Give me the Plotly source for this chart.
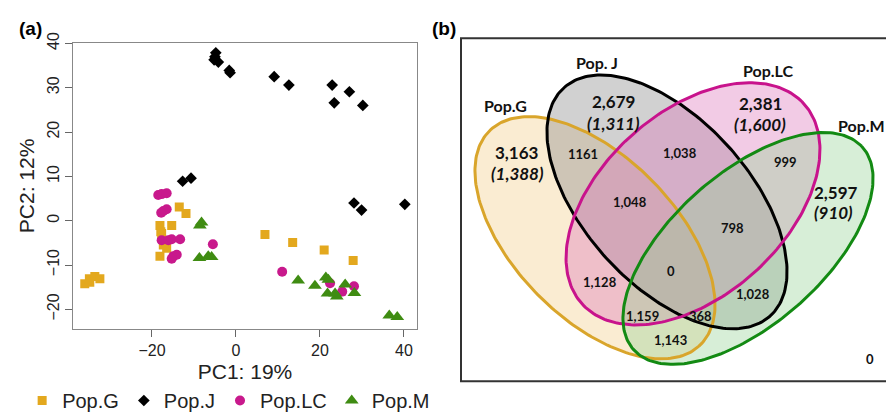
import numpy as np
import plotly.graph_objects as go

# ---------------- Panel (a) data: PCA scores ----------------
popG_x = [-13.5, -11.9, -18.1, -15.3, -17.9, -17.7, -17.3, -16.5, -18.1, -36.0, -34.9, -33.6, -32.4, -34.8, 6.9, 13.5, 21.0, 27.9]
popG_y = [3.1, 1.6, -1.1, -1.1, -2.5, -2.9, -5.5, -6.2, -8.0, -14.2, -13.1, -12.6, -13.1, -13.9, -3.1, -4.9, -6.6, -9.0]

popJ_x = [-4.8, -5.0, -5.2, -4.2, -1.6, -1.4, 9.1, 12.6, 22.9, 23.4, 27.0, 30.2, -12.7, -10.7, 28.1, 29.9, 40.2]
popJ_y = [37.9, 37.0, 36.3, 35.8, 33.9, 33.4, 32.5, 30.6, 30.6, 26.6, 29.1, 26.0, 8.9, 9.6, 4.0, 2.4, 3.7]

popLC_x = [-18.5, -17.7, -16.5, -17.3, -16.5, -17.8, -17.7, -16.1, -15.3, -13.3, -14.9, -14.1, -15.3, -5.5, 11.0, 22.4, 25.3, 28.1]
popLC_y = [5.8, 6.0, 6.2, 2.2, 2.6, 1.8, -4.4, -4.4, -4.2, -4.2, -8.0, -7.7, -8.6, -5.3, -11.5, -14.1, -16.0, -14.8]

popM_x = [-8.6, -8.2, -8.7, -6.6, -5.8, 14.8, 18.8, 21.4, 22.0, 21.8, 24.0, 23.6, 26.0, 28.2, 36.5, 38.4]
popM_y = [-1.1, -0.4, -8.4, -8.0, -8.2, -13.5, -14.7, -12.8, -13.3, -16.4, -17.1, -16.4, -14.4, -16.3, -21.4, -21.7]

pop_names = ["Pop.G", "Pop.J", "Pop.LC", "Pop.M"]
x_ticks = [-20, 0, 20, 40]
y_ticks = [-20, -10, 0, 10, 20, 30, 40]

# ---------------- Panel (b) data: Venn counts ----------------
venn_set_labels = ["Pop.G", "Pop. J", "Pop.LC", "Pop.M"]
venn_unique = ["3,163", "2,679", "2,381", "2,597"]
venn_unique_sub = ["(1,388)", "(1,311)", "(1,600)", "(910)"]
venn_overlaps = ["1161", "1,038", "999", "1,048", "798", "0", "1,128", "1,028", "1,159", "368", "1,143", "0"]

# ---------------- styles / positions ----------------
pop_colors = ["#E3A81E", "#000000", "#C8198C", "#3F8C12"]
pop_symbols = ["square", "diamond", "circle", "triangle-up"]
pop_sizes = [9, 9, 10, 12]

# ellipse geometry in pixel space of panel (b): cx, cy, a, b, angle
ell_geom = [(595, 234, 152.7, 82.0, 47.1),
            (667, 197, 156.6, 83.9, 49.5),
            (693, 199, 151.6, 93.6, -44.0),
            (748, 245, 155.0, 77.0, -42.9)]
ell_fill = ["rgba(242,208,142,0.40)", "rgba(140,140,140,0.40)",
            "rgba(222,117,187,0.38)", "rgba(150,210,150,0.38)"]
ell_line = ["#D9A52B", "#000000", "#C8138C", "#138A13"]

set_label_pos = [(505, 97, "center"), (597, 53, "center"), (768, 61, "center"), (836, 118, "left")]
unique_pos = [(517, 146), (613, 93), (760, 95), (836, 187)]
unique_sub_pos = [(517, 168), (613, 116), (760, 117), (833, 208)]
overlap_pos = [(583, 148), (680, 147), (785, 156), (630, 197), (732, 224), (671, 268),
               (600, 280), (753, 292), (642, 315), (700, 315), (670, 339), (870, 359)]

W, H = 886, 420

fig = go.Figure()

series = [(popG_x, popG_y), (popJ_x, popJ_y), (popLC_x, popLC_y), (popM_x, popM_y)]
for i, (xs, ys) in enumerate(series):
    fig.add_trace(go.Scatter(
        x=xs, y=ys, mode="markers", name=pop_names[i],
        marker=dict(symbol=pop_symbols[i], color=pop_colors[i], size=pop_sizes[i], line=dict(width=0)),
        xaxis="x", yaxis="y"))


def ellipse(cx, cy, a, b, deg, n=241):
    t = np.linspace(0, 2 * np.pi, n)
    th = np.radians(deg)
    ex = cx + a * np.cos(t) * np.cos(th) - b * np.sin(t) * np.sin(th)
    ey = cy + a * np.cos(t) * np.sin(th) + b * np.sin(t) * np.cos(th)
    return ex, ey


for i, g in enumerate(ell_geom):
    ex, ey = ellipse(*g)
    fig.add_trace(go.Scatter(x=ex, y=ey, mode="lines", fill="toself", fillcolor=ell_fill[i],
                             line=dict(width=0, color="rgba(0,0,0,0)"), showlegend=False,
                             hoverinfo="skip", xaxis="x2", yaxis="y2"))
for i, g in enumerate(ell_geom):
    ex, ey = ellipse(*g)
    fig.add_trace(go.Scatter(x=ex, y=ey, mode="lines", line=dict(width=3, color=ell_line[i]),
                             showlegend=False, hoverinfo="skip", xaxis="x2", yaxis="y2"))

ann = []
vfont = "Lato, Noto Sans, sans-serif"
for (px, py, al), t in zip(set_label_pos, venn_set_labels):
    ann.append(dict(x=px, y=py, xref="x2", yref="y2", text="<b>%s</b>" % t, showarrow=False,
                    xanchor=al, yanchor="middle", font=dict(family=vfont, size=16, color="#111")))
for (px, py), t in zip(unique_pos, venn_unique):
    ann.append(dict(x=px, y=py, xref="x2", yref="y2", text="<b>%s</b>" % t, showarrow=False,
                    xanchor="center", yanchor="middle", font=dict(family=vfont, size=17, color="#111")))
for (px, py), t in zip(unique_sub_pos, venn_unique_sub):
    ann.append(dict(x=px, y=py, xref="x2", yref="y2", text="<b><i>%s</i></b>" % t, showarrow=False,
                    xanchor="center", yanchor="middle", font=dict(family=vfont, size=17, color="#111")))
for (px, py), t in zip(overlap_pos, venn_overlaps):
    ann.append(dict(x=px, y=py, xref="x2", yref="y2", text="<b>%s</b>" % t, showarrow=False,
                    xanchor="center", yanchor="middle", font=dict(family=vfont, size=13, color="#111")))

afont = "Liberation Sans, Arial, sans-serif"
ann.append(dict(x=30 / W, y=1 - 18 / H, xref="paper", yref="paper", text="<b>(a)</b>", showarrow=False,
                xanchor="center", yanchor="middle", font=dict(family=afont, size=19, color="#000")))
ann.append(dict(x=444 / W, y=1 - 18 / H, xref="paper", yref="paper", text="<b>(b)</b>", showarrow=False,
                xanchor="center", yanchor="middle", font=dict(family=afont, size=19, color="#000")))

fig.update_layout(
    width=W, height=H, margin=dict(l=0, r=0, t=0, b=0),
    paper_bgcolor="white", plot_bgcolor="white",
    font=dict(family=afont, color="#222"),
    xaxis=dict(domain=[73 / W, 417 / W], range=[-38.8, 43.1], tickvals=x_ticks,
               ticks="outside", ticklen=7, tickcolor="#666", showline=True, mirror=True,
               linecolor="#888", linewidth=1, showgrid=False, zeroline=False,
               tickfont=dict(size=16, color="#222"),
               title=dict(text="PC1: 19%", font=dict(size=21, color="#222"), standoff=6)),
    yaxis=dict(domain=[1 - 328 / H, 1 - 33 / H], range=[-24.4, 40.1], tickvals=y_ticks,
               ticks="outside", ticklen=7, tickcolor="#666", showline=True, mirror=True,
               linecolor="#888", linewidth=1, showgrid=False, zeroline=False, tickangle=-90,
               tickfont=dict(size=16, color="#222"),
               title=dict(text="PC2: 12%", font=dict(size=21, color="#222"), standoff=4)),
    xaxis2=dict(domain=[440 / W, 1], range=[440, 886], visible=False, fixedrange=True),
    yaxis2=dict(domain=[0, 1], range=[420, 0], visible=False, fixedrange=True, anchor="x2"),
    legend=dict(orientation="h", x=0.025, y=1 - 402 / H, xanchor="left", yanchor="middle",
                font=dict(size=20, color="#222"), itemwidth=30, bgcolor="rgba(0,0,0,0)"),
    shapes=[dict(type="rect", xref="x2", yref="y2", x0=461, y0=28, x1=900, y1=382,
                 line=dict(color="#333", width=2), fillcolor="rgba(0,0,0,0)", layer="above")],
    annotations=ann,
)
fig.update_layout(xaxis2_anchor="y2")

fig.write_html("out.html")
